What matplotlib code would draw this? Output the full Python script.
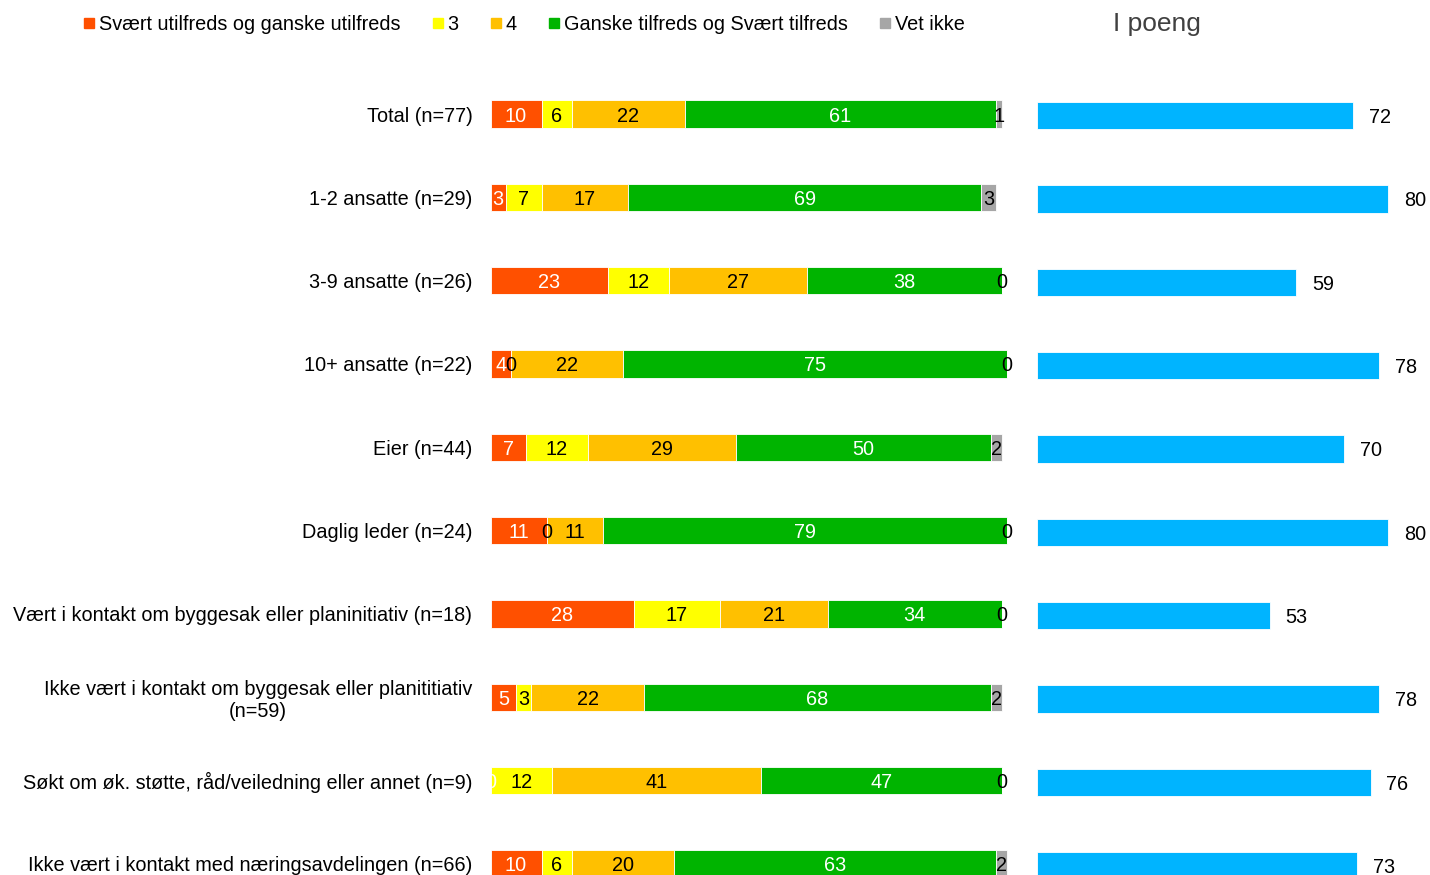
import matplotlib
matplotlib.use("Agg")
import matplotlib.pyplot as plt
from matplotlib.lines import Line2D

plt.rcParams['font.family'] = ['Liberation Sans', 'DejaVu Sans']

categories = [
    "Total (n=77)",
    "1-2 ansatte (n=29)",
    "3-9 ansatte (n=26)",
    "10+ ansatte (n=22)",
    "Eier (n=44)",
    "Daglig leder (n=24)",
    "Vært i kontakt om byggesak eller planinitiativ (n=18)",
    "Ikke vært i kontakt om byggesak eller planititiativ\n(n=59)",
    "Søkt om øk. støtte, råd/veiledning eller annet (n=9)",
    "Ikke vært i kontakt med næringsavdelingen (n=66)",
]
utilfreds = [10, 3, 23, 4, 7, 11, 28, 5, 0, 10]
tre = [6, 7, 12, 0, 12, 0, 17, 3, 12, 6]
fire = [22, 17, 27, 22, 29, 11, 21, 22, 41, 20]
tilfreds = [61, 69, 38, 75, 50, 79, 34, 68, 47, 63]
vet_ikke = [1, 3, 0, 0, 2, 0, 0, 2, 0, 2]
poeng = [72, 80, 59, 78, 70, 80, 53, 78, 76, 73]

series_names = ["Svært utilfreds og ganske utilfreds", "3", "4",
                "Ganske tilfreds og Svært tilfreds", "Vet ikke"]
series = [utilfreds, tre, fire, tilfreds, vet_ikke]
colors = ["#FF5000", "#FFFF00", "#FFC000", "#00B400", "#A6A6A6"]
text_colors = ["white", "black", "black", "white", "black"]

W, H = 1430, 875
fig = plt.figure(figsize=(W / 100, H / 100), dpi=100)

n = len(categories)
top_px, row_px = 114, 83.33
ax_top_px = top_px - 0.5 * row_px
ybot = (H - top_px) / row_px
fs = 14.3

ax = fig.add_axes([490.5 / W, 0, 511 / W, 1 - ax_top_px / H])
ax.set_xlim(0, 100)
ax.set_ylim(ybot, -0.5)
ys = list(range(n))
left = [0] * n
for vals, col, tcol in zip(series, colors, text_colors):
    ax.barh(ys, vals, left=left, height=0.33, color=col, edgecolor="white",
            linewidth=0.6, clip_on=False)
    for i, v in enumerate(vals):
        ax.text(left[i] + v / 2, i, str(v), ha="center", va="center_baseline",
                color=tcol, fontsize=fs, clip_on=False)
    left = [l + v for l, v in zip(left, vals)]
ax.set_yticks(ys)
ax.set_yticklabels(categories, fontsize=fs, multialignment="center")
ax.tick_params(axis="y", length=0, pad=13)
ax.set_xticks([])
for s in ax.spines.values():
    s.set_visible(False)

ax2 = fig.add_axes([1037 / W, 0, 393 / W, 1 - ax_top_px / H])
ax2.set_xlim(0, 393 / 4.39)
ax2.set_ylim(ybot, -0.5)
ys2 = [y + 0.02 for y in ys]
ax2.barh(ys2, poeng, height=0.33, color="#00B4FF", edgecolor="white", linewidth=0.6)
for y, v in zip(ys2, poeng):
    ax2.text(v + 3.6, y, str(v), ha="left", va="center_baseline", fontsize=fs, color="black")
ax2.set_xticks([])
ax2.set_yticks([])
for s in ax2.spines.values():
    s.set_visible(False)

handles = [Line2D([0], [0], marker="s", linestyle="none", markersize=7,
                  markerfacecolor=c, markeredgecolor=c) for c in colors]
fig.legend(handles, series_names, loc="center left", bbox_to_anchor=(84 / W, 1 - 24 / H),
           ncol=5, frameon=False, fontsize=fs, handlelength=0.5, handletextpad=0.25,
           columnspacing=1.62, borderaxespad=0, borderpad=0)

fig.text(1157 / W, 1 - 24 / H, "I poeng", ha="center", va="center",
         fontsize=19, color="#404040")

fig.savefig("out.png", dpi=100)
